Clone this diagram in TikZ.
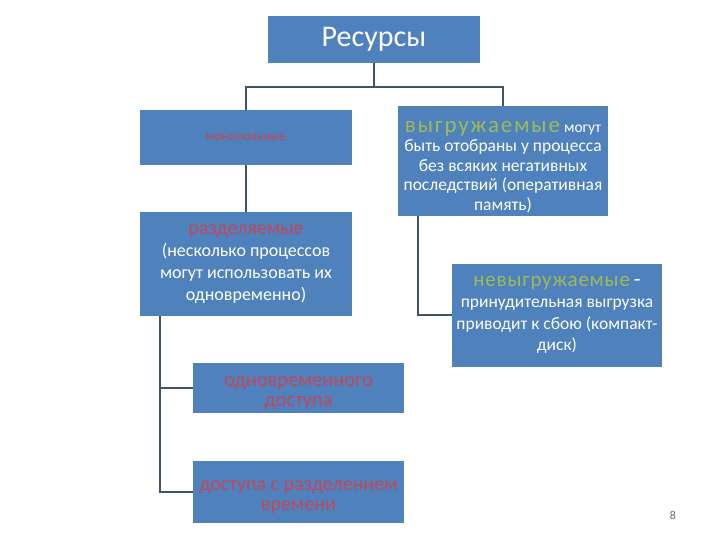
\documentclass[tikz,border=0pt]{standalone}
\usepackage{fontspec}
\setmainfont{Carlito}
\definecolor{boxblue}{RGB}{79,129,189}
\definecolor{linecol}{RGB}{62,84,104}
\definecolor{redtxt}{RGB}{192,72,92}
\definecolor{greentxt}{RGB}{155,187,89}
\definecolor{pagegray}{RGB}{110,110,110}
\newcommand{\fs}[2]{\fontsize{#1}{#2}\selectfont}
\newcommand{\wide}[1]{\addfontfeatures{LetterSpace=#1}}
\newcommand{\lowered}[2]{\raisebox{-#1}[\dimexpr\height+#1\relax][\dimexpr\depth+#1\relax]{#2}}
\tikzset{
  box/.style={rectangle, fill=boxblue, inner sep=0pt, align=center, text=white},
  conn/.style={draw=linecol, line width=2pt}
}
\begin{document}
\begin{tikzpicture}[x=1pt,y=-1pt]
\useasboundingbox (0,0) rectangle (720,540);
\node[box, minimum width=212pt, minimum height=47pt, font=\fs{30}{32}] (top) at (374,39.5) {Ресурсы};
\node[box, minimum width=212pt, minimum height=55pt, font=\fs{13.5}{16}, text=redtxt] (l1) at (246,137.5) {монопольные};
\node[box, minimum width=212pt, minimum height=104pt, font=\fs{18}{22}] (l2) at (246,264) {\textcolor{redtxt}{\fs{20}{22}разделяемые}\\(несколько процессов\\могут использовать их\\одновременно)};
\node[box, minimum width=211pt, minimum height=50pt, font=\fs{20.5}{22}, text=redtxt] (l3) at (298.5,388) {\lowered{4pt}{\begin{tabular}{@{}c@{}}одновременного\\[-2pt]доступа\end{tabular}}};
\node[box, minimum width=211pt, minimum height=62pt, font=\fs{20}{22}, text=redtxt] (l4) at (298.5,492) {\lowered{4pt}{\begin{tabular}{@{}c@{}}доступа с разделением\\[-2pt]времени\end{tabular}}};
\node[box, minimum width=210pt, minimum height=104pt, font=\fs{17.5}{19.5}] (r1) at (503,161) {\lowered{6.5pt}{\begin{tabular}{@{}c@{}}{\fs{23}{23}\wide{8}\textcolor{greentxt}{выгружаемые}} {\fs{15.5}{19.5}могут}\\быть отобраны у процесса\\без всяких негативных\\последствий (оперативная\\память)\end{tabular}}};
\node[box, minimum width=210pt, minimum height=103pt, font=\fs{17.5}{21.5}] (r2) at (557,315) {{\fs{21}{22}\wide{4}\textcolor{greentxt}{невыгружаемые}} {\fs{22}{22}-}\\принудительная выгрузка\\приводит к сбою (компакт-\\диск)};
\node[text=pagegray, font=\fs{12}{14}] (pg) at (673,515) {8};
\draw[conn] (top.south) -- ++(0,24) -| (l1.north);
\draw[conn] (top.south) -- ++(0,24) -| (r1.north);
\draw[conn] (l1.south) -- (l2.north);
\draw[conn] (l2.south west) ++(20,0) |- (l3.west);
\draw[conn] (l2.south west) ++(20,0) |- (l4.west);
\draw[conn] (r1.south west) ++(20,0) |- (r2.west);
\end{tikzpicture}
\end{document}
